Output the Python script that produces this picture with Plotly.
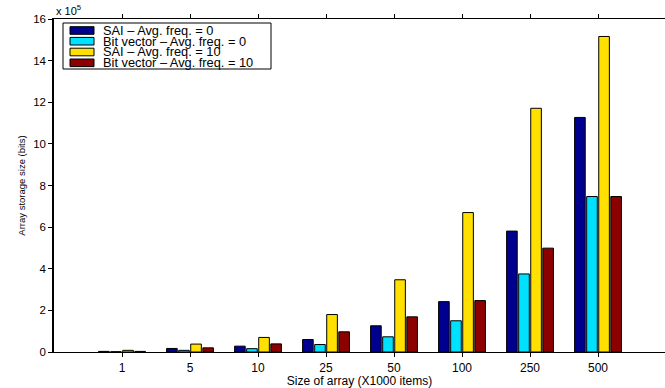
import plotly.graph_objects as go

categories = ["1", "5", "10", "25", "50", "100", "250", "500"]
series_names = [
    "SAI \u2013 Avg. freq. = 0",
    "Bit vector \u2013 Avg. freq. = 0",
    "SAI \u2013 Avg. freq. = 10",
    "Bit vector \u2013 Avg. freq. = 10",
]
# values in units of 1e5 bits
sai_f0 = [0.03, 0.17, 0.28, 0.60, 1.26, 2.42, 5.81, 11.27]
bv_f0 = [0.015, 0.08, 0.16, 0.36, 0.73, 1.50, 3.75, 7.47]
sai_f10 = [0.08, 0.38, 0.70, 1.80, 3.47, 6.70, 11.71, 15.16]
bv_f10 = [0.03, 0.20, 0.39, 0.97, 1.69, 2.47, 4.99, 7.47]
colors = ["#00008F", "#00E0FF", "#FFE000", "#8C0000"]
y_ticks = [0, 2, 4, 6, 8, 10, 12, 14, 16]

W, H = 665, 388
L, R, T, B = 54, 0, 19, 36
FONT = "Liberation Sans, Arial, Helvetica, sans-serif"

fig = go.Figure()
for name, vals, col in zip(series_names, [sai_f0, bv_f0, sai_f10, bv_f10], colors):
    fig.add_trace(go.Bar(
        x=categories, y=vals, name=name,
        marker=dict(color=col, line=dict(color="black", width=1)),
        showlegend=False,
    ))

pw, ph = W - L - R, H - T - B
def px(x):
    return (x - L) / pw
def py(y):
    return (H - B - y) / ph

shapes = []
annotations = []
# manual legend
shapes.append(dict(type="rect", xref="paper", yref="paper",
                   x0=px(63), x1=px(271), y0=py(69), y1=py(23),
                   line=dict(color="black", width=1), fillcolor="white", layer="above"))
row_centers = [30.5, 41.2, 52.0, 62.8]
for yc, col, name in zip(row_centers, colors, series_names):
    shapes.append(dict(type="rect", xref="paper", yref="paper",
                       x0=px(70), x1=px(94), y0=py(yc + 3.8), y1=py(yc - 3.8),
                       line=dict(color="black", width=1), fillcolor=col, layer="above"))
    annotations.append(dict(xref="paper", yref="paper", x=px(101), y=py(yc),
                            xanchor="left", yanchor="middle", showarrow=False,
                            text=name, font=dict(family=FONT, size=12.8, color="black")))
# exponent label
annotations.append(dict(xref="paper", yref="paper", x=px(54), y=py(10),
                        xanchor="left", yanchor="middle", showarrow=False,
                        text="x 10<sup>5</sup>", font=dict(family=FONT, size=11, color="black")))

fig.update_layout(
    width=W, height=H,
    margin=dict(l=L, r=R, t=T, b=B, pad=0, autoexpand=False),
    plot_bgcolor="white", paper_bgcolor="white",
    barmode="group", bargap=0.29, bargroupgap=0.12,
    font=dict(family=FONT, size=11, color="black"),
    shapes=shapes, annotations=annotations,
    xaxis=dict(
        type="category", range=[-1, 7.985],
        showline=True, linecolor="black", linewidth=1.3,
        mirror="ticks", ticks="outside", ticklen=4, tickcolor="black",
        showgrid=False, zeroline=False,
        tickfont=dict(family=FONT, size=12),
        title=dict(text="Size of array (X1000 items)", font=dict(family=FONT, size=12), standoff=1),
    ),
    yaxis=dict(
        range=[0, 16], tickvals=y_ticks, ticktext=[str(v) for v in y_ticks],
        showline=True, linecolor="black", linewidth=1.5,
        ticks="outside", ticklen=4, tickcolor="black",
        showgrid=False, zeroline=False,
        tickfont=dict(family=FONT, size=11.5),
        title=dict(text="Array storage size (bits)", font=dict(family=FONT, size=9.5, color="black"), standoff=6),
    ),
)

fig.write_html(
    "out.html",
    config={"displayModeBar": False},
    post_script="document.body.style.margin='0';document.body.style.padding='0';document.documentElement.style.overflow='hidden';",
)
